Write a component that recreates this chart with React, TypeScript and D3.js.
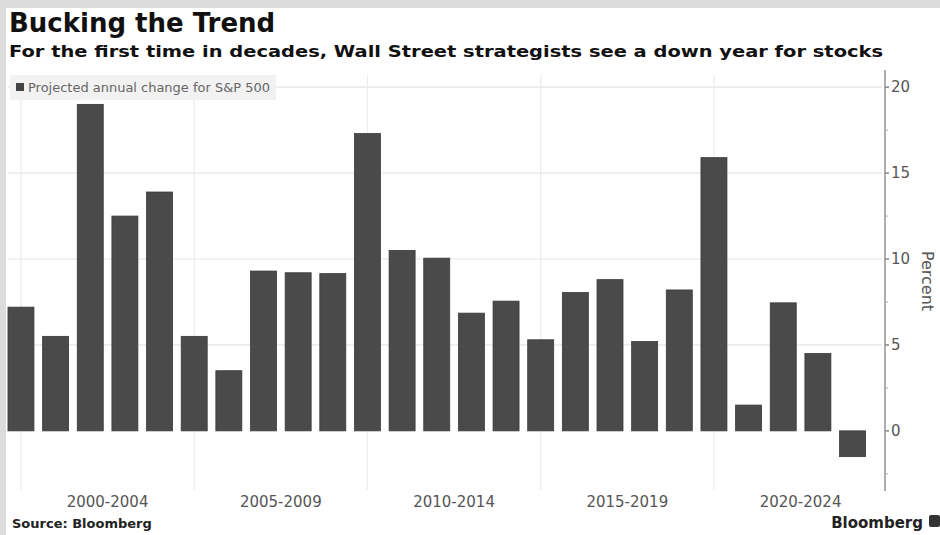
import { useEffect, useRef } from 'react';
import * as d3 from 'd3';

const years = d3.range(2000, 2025);
const projected = [
  7.2, 5.5, 19.0, 12.5, 13.9, 5.5, 3.5, 9.3, 9.2, 9.15, 17.3, 10.5, 10.05, 6.85, 7.55, 5.3, 8.05, 8.8,
  5.2, 8.2, 15.9, 1.5, 7.45, 4.5, -1.5,
];
const groupLabels = ['2000-2004', '2005-2009', '2010-2014', '2015-2019', '2020-2024'];
const yTicks = [0, 5, 10, 15, 20];
const yMinorTicks = [-2.5, 2.5, 7.5, 12.5, 17.5];

const W = 940;
const H = 535;
const FONT = '"DejaVu Sans", Verdana, sans-serif';

export default function App() {
  const svgRef = useRef<SVGSVGElement | null>(null);

  useEffect(() => {
    document.body.style.margin = '0';
    if (!svgRef.current) return;
    const svg = d3.select(svgRef.current);
    svg.selectAll('*').remove();

    // frame
    svg.append('rect').attr('width', W).attr('height', H).attr('fill', '#dcdcdc');
    svg.append('rect').attr('x', 6).attr('y', 8).attr('width', W - 6).attr('height', H - 8).attr('fill', '#fff');

    const x = d3.scaleBand<number>().domain(years).range([-0.7, 874.2]).paddingInner(0.25).paddingOuter(0.25);
    const cx = (yr: number) => (x(yr) ?? 0) + x.bandwidth() / 2;
    const y = d3.scaleLinear().domain([-3.5, 21]).range([491, 70]);
    const axisX = 885;

    // horizontal gridlines
    svg
      .append('g')
      .selectAll('line')
      .data(yTicks.filter((d) => d !== 0))
      .join('line')
      .attr('x1', 8)
      .attr('x2', axisX - 3)
      .attr('y1', (d) => y(d))
      .attr('y2', (d) => y(d))
      .attr('stroke', '#e6e6e6')
      .attr('stroke-width', 1.2);

    // vertical gridlines at group starts
    const groupStarts = years.filter((d) => d % 5 === 0);
    svg
      .append('g')
      .selectAll('line')
      .data(groupStarts)
      .join('line')
      .attr('x1', cx)
      .attr('x2', cx)
      .attr('y1', 75)
      .attr('y2', 490)
      .attr('stroke', '#ececec')
      .attr('stroke-width', 1.2);

    // legend
    svg.append('rect').attr('x', 10).attr('y', 75).attr('width', 266).attr('height', 25).attr('fill', '#f2f2f2');
    svg.append('rect').attr('x', 16).attr('y', 83).attr('width', 8).attr('height', 8).attr('fill', '#444');
    svg
      .append('text')
      .attr('x', 28)
      .attr('y', 92)
      .attr('font-family', FONT)
      .attr('font-size', 12.5)
      .attr('fill', '#666')
      .attr('textLength', 242)
      .attr('lengthAdjust', 'spacingAndGlyphs')
      .text('Projected annual change for S&P 500');

    // bars
    svg
      .append('g')
      .selectAll('rect')
      .data(years)
      .join('rect')
      .attr('x', (d) => x(d) ?? 0)
      .attr('width', x.bandwidth())
      .attr('y', (_, i) => y(Math.max(0, projected[i])))
      .attr('height', (_, i) => Math.abs(y(projected[i]) - y(0)))
      .attr('fill', '#4a4a4a')
      .attr('stroke', '#3a3a3a')
      .attr('stroke-width', 0.8);

    // y axis
    const yAxis = svg.append('g').attr('transform', `translate(${axisX},0)`);
    yAxis.append('line').attr('y1', 70).attr('y2', 491).attr('stroke', '#999').attr('stroke-width', 1.6);
    yAxis
      .selectAll('line.major')
      .data(yTicks)
      .join('line')
      .attr('class', 'major')
      .attr('x1', 0)
      .attr('x2', 4)
      .attr('y1', (d) => y(d))
      .attr('y2', (d) => y(d))
      .attr('stroke', '#888')
      .attr('stroke-width', 1.5);
    yAxis
      .selectAll('line.minor')
      .data(yMinorTicks)
      .join('line')
      .attr('class', 'minor')
      .attr('x1', 0)
      .attr('x2', 3)
      .attr('y1', (d) => y(d))
      .attr('y2', (d) => y(d))
      .attr('stroke', '#aaa');
    yAxis
      .selectAll('text')
      .data(yTicks)
      .join('text')
      .attr('x', 6)
      .attr('y', (d) => y(d))
      .attr('dy', '0.35em')
      .attr('font-family', FONT)
      .attr('font-size', 15)
      .attr('fill', '#555')
      .text((d) => d);

    svg
      .append('text')
      .attr('transform', `translate(922,${y(10) + 22}) rotate(90)`)
      .attr('text-anchor', 'middle')
      .attr('font-family', FONT)
      .attr('font-size', 16)
      .attr('fill', '#555')
      .text('Percent');

    // x labels centered in each 5-year group
    svg
      .append('g')
      .selectAll('text')
      .data(groupLabels)
      .join('text')
      .attr('x', (_, i) => cx(2000 + i * 5) + 2.5 * x.step())
      .attr('y', 507)
      .attr('text-anchor', 'middle')
      .attr('font-family', FONT)
      .attr('font-size', 15)
      .attr('fill', '#555')
      .text((d) => d);

    // titles
    svg
      .append('text')
      .attr('x', 9)
      .attr('y', 32)
      .attr('font-family', FONT)
      .attr('font-weight', 'bold')
      .attr('font-size', 26)
      .attr('fill', '#111')
      .text('Bucking the Trend');
    svg
      .append('text')
      .attr('x', 9)
      .attr('y', 57)
      .attr('font-family', FONT)
      .attr('font-weight', 'bold')
      .attr('font-size', 16)
      .attr('fill', '#111')
      .attr('textLength', 874)
      .attr('lengthAdjust', 'spacingAndGlyphs')
      .text('For the first time in decades, Wall Street strategists see a down year for stocks');

    // footer
    svg
      .append('text')
      .attr('x', 12)
      .attr('y', 528)
      .attr('font-family', FONT)
      .attr('font-weight', 'bold')
      .attr('font-size', 13)
      .attr('fill', '#222')
      .text('Source: Bloomberg');
    svg
      .append('text')
      .attr('x', 923)
      .attr('y', 528)
      .attr('text-anchor', 'end')
      .attr('font-family', FONT)
      .attr('font-weight', 'bold')
      .attr('font-size', 15)
      .attr('fill', '#222')
      .text('Bloomberg');
    svg.append('rect').attr('x', 929).attr('y', 515).attr('width', 11).attr('height', 12).attr('rx', 2).attr('fill', '#333');
  }, []);

  return <svg ref={svgRef} width={W} height={H} style={{ display: 'block' }}></svg>;
}
